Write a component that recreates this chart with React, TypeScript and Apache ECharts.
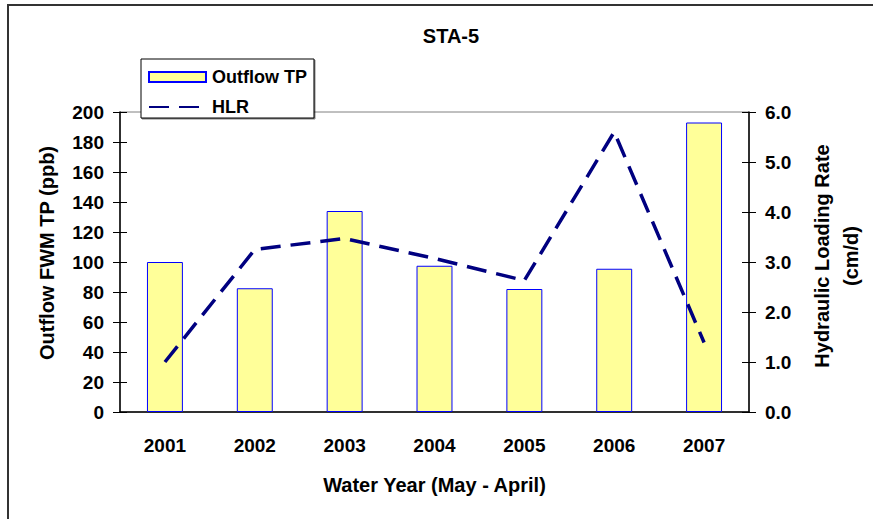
import React, { useEffect, useRef } from "react";
import * as echarts from "echarts";

const years = ["2001", "2002", "2003", "2004", "2005", "2006", "2007"];
const outflowTP = [100, 82.5, 134, 97.5, 82, 95.5, 193];
const hlr = [1.0, 3.25, 3.47, 3.07, 2.63, 5.6, 1.39];

const FONT = "'Liberation Sans', Arial, sans-serif";

export default function App() {
  const ref = useRef<HTMLDivElement>(null);
  useEffect(() => {
    if (!ref.current) return;
    const chart = echarts.init(ref.current, null, { renderer: "svg" });
    const label = { color: "#000", fontWeight: "bold" as const, fontSize: 19, fontFamily: FONT };
    const nameStyle = { color: "#000", fontWeight: "bold" as const, fontSize: 20, fontFamily: FONT };
    chart.setOption({
      animation: false,
      backgroundColor: "#fff",
      title: {
        text: "STA-5",
        left: 446,
        top: 21,
        textAlign: "center",
        textStyle: { color: "#000", fontWeight: "bold", fontSize: 20, fontFamily: FONT },
      },
      legend: {
        orient: "vertical",
        left: 141,
        top: 59,
        padding: [9, 7, 2, 7],
        itemGap: 12,
        itemWidth: 57,
        itemHeight: 10,
        backgroundColor: "#fff",
        borderColor: "#000",
        borderWidth: 1,
        shadowColor: "rgba(0,0,0,0.5)",
        shadowOffsetX: 1,
        shadowOffsetY: 1,
        textStyle: { ...label, fontSize: 18, padding: [0, 0, 0, 1] },
        data: [
          { name: "Outflow TP", icon: "rect" },
          { name: "HLR", itemStyle: { opacity: 0 } },
        ],
      },
      grid: {
        left: 120,
        right: 114,
        top: 112,
        bottom: 107,
        show: true,
        borderColor: "#808080",
        borderWidth: 1,
        backgroundColor: "transparent",
      },
      xAxis: [
        {
          type: "category",
          data: years,
          boundaryGap: true,
          name: "Water Year (May - April)",
          nameLocation: "middle",
          nameGap: 63,
          nameTextStyle: nameStyle,
          axisLine: { lineStyle: { color: "#000", width: 1.5 } },
          axisTick: { length: 7, lineStyle: { color: "#000" } },
          axisLabel: { ...label, margin: 24 },
          splitLine: { show: false },
        },
        {
          type: "category",
          data: years,
          position: "bottom",
          boundaryGap: true,
          axisLine: { show: false },
          axisTick: { inside: true, length: 7, lineStyle: { color: "#000" } },
          axisLabel: { show: false },
          splitLine: { show: false },
        },
      ],
      yAxis: [
        {
          type: "value",
          position: "left",
          min: 0,
          max: 200,
          interval: 20,
          name: "Outflow FWM TP (ppb)",
          nameLocation: "middle",
          nameGap: 63,
          nameRotate: 90,
          nameTextStyle: { ...nameStyle, padding: [0, 0, 0, 18] },
          axisLine: { show: true, lineStyle: { color: "#000", width: 1.5 } },
          axisTick: { show: true, length: 7, lineStyle: { color: "#000" } },
          axisLabel: { ...label, margin: 16 },
          splitLine: { show: false },
        },
        {
          type: "value",
          position: "right",
          min: 0,
          max: 6,
          interval: 1,
          name: "Hydraulic Loading Rate\n(cm/d)",
          nameLocation: "middle",
          nameGap: 58,
          nameRotate: 90,
          nameTextStyle: { ...nameStyle, lineHeight: 29, align: "center", padding: [0, 0, 0, 12] },
          axisLine: { show: true, lineStyle: { color: "#000", width: 1.5 } },
          axisTick: { show: true, length: 7, lineStyle: { color: "#000" } },
          axisLabel: { ...label, margin: 16, formatter: (v: number) => v.toFixed(1) },
          splitLine: { show: false },
        },
        {
          type: "value",
          position: "left",
          min: 0,
          max: 200,
          interval: 20,
          axisLine: { show: false },
          axisTick: { show: true, inside: true, length: 7, lineStyle: { color: "#000" } },
          axisLabel: { show: false },
          splitLine: { show: false },
        },
        {
          type: "value",
          position: "right",
          min: 0,
          max: 6,
          interval: 1,
          axisLine: { show: false },
          axisTick: { show: true, inside: true, length: 7, lineStyle: { color: "#000" } },
          axisLabel: { show: false },
          splitLine: { show: false },
        },
      ],
      series: [
        {
          name: "Outflow TP",
          type: "bar",
          xAxisIndex: 0,
          yAxisIndex: 0,
          data: outflowTP,
          barWidth: "40%",
          itemStyle: { color: "#FFFF99", borderColor: "#0000FF", borderWidth: 1 },
        },
        {
          name: "HLR",
          type: "line",
          xAxisIndex: 0,
          yAxisIndex: 1,
          data: hlr,
          symbol: "none",
          showSymbol: false,
          lineStyle: { color: "#000080", width: 3.5, type: [20, 10] },
          itemStyle: { color: "#000080" },
          z: 5,
        },
      ],
      graphic: [
        {
          type: "rect",
          shape: { x: 8, y: 5, width: 1000, height: 1000 },
          style: { fill: "none", stroke: "#333", lineWidth: 2 },
          silent: true,
          z: 100,
        },
      ],
    });
    return () => chart.dispose();
  }, []);
  return (
    <div
      ref={ref}
      style={{ position: "fixed", left: 0, top: 0, width: 873, height: 519, background: "#fff" }}
    />
  );
}
